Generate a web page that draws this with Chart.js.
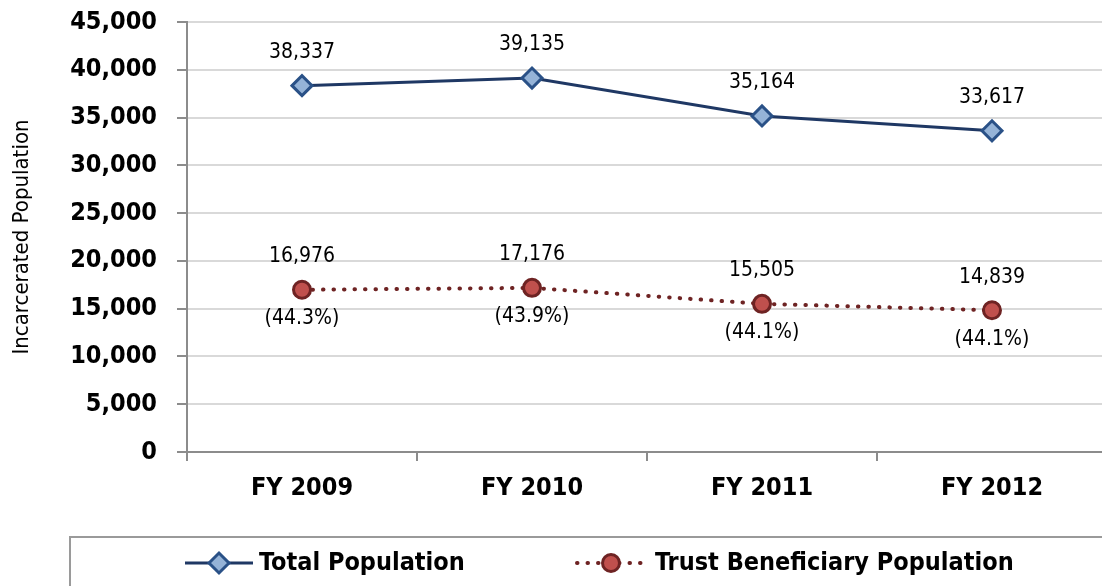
<!DOCTYPE html>
<html>
<head>
<meta charset="utf-8">
<script src="https://cdn.jsdelivr.net/npm/chart.js@4"></script>
<style>
  html, body { margin: 0; padding: 0; background: #fff; overflow: hidden; }
  #wrap { width: 1120px; height: 586px; }
</style>
</head>
<body>
<div id="wrap"><canvas id="popChart" width="1120" height="586"></canvas></div>
<script>
// ── Data ─────────────────────────────────────────────────────────────────────
const years = ['FY 2009', 'FY 2010', 'FY 2011', 'FY 2012'];
const totalPopulation = [38337, 39135, 35164, 33617];
const trustPopulation = [16976, 17176, 15505, 14839];
const trustShare = ['(44.3%)', '(43.9%)', '(44.1%)', '(44.1%)'];
const yTicks = [0, 5000, 10000, 15000, 20000, 25000, 30000, 35000, 40000, 45000];

const FONT = '"Liberation Sans Narrow", "Arial Narrow", "DejaVu Sans Condensed", sans-serif';
const fmt = n => n.toLocaleString('en-US');

// ── Value labels above / below the points ────────────────────────────────────
const pointLabels = {
    id: 'pointLabels',
    afterDatasetsDraw(chart) {
        const ctx = chart.ctx;
        ctx.save();
        ctx.font = '21px ' + FONT;
        ctx.fillStyle = '#000';
        ctx.textAlign = 'center';
        ctx.textBaseline = 'middle';
        chart.data.datasets.forEach((ds, i) => {
            chart.getDatasetMeta(i).data.forEach((pt, j) => {
                ctx.fillText(fmt(ds.data[j]), pt.x, pt.y - 33);
                if (ds.extra) ctx.fillText(ds.extra[j], pt.x, pt.y + 29);
            });
        });
        ctx.restore();
    }
};

// ── Boxed legend at the bottom ───────────────────────────────────────────────
const boxLegend = {
    id: 'boxLegend',
    afterDraw(chart) {
        const ctx = chart.ctx;
        ctx.save();
        ctx.strokeStyle = '#9a9a9a';
        ctx.lineWidth = 2;
        ctx.strokeRect(70, 537, 1100, 100);

        const y = 563;
        const items = [{ x: 185, textX: 259 }, { x: 577, textX: 655 }];
        chart.data.datasets.forEach((ds, i) => {
            const it = items[i];
            ctx.strokeStyle = ds.borderColor;
            ctx.lineWidth = ds.borderWidth;
            ctx.lineCap = ds.borderCapStyle || 'butt';
            ctx.setLineDash(ds.borderDash || []);
            ctx.beginPath();
            ctx.moveTo(it.x, y);
            ctx.lineTo(it.x + 68, y);
            ctx.stroke();
            ctx.setLineDash([]);
            ctx.fillStyle = ds.pointBackgroundColor;
            ctx.strokeStyle = ds.pointBorderColor;
            ctx.lineWidth = ds.pointBorderWidth;
            Chart.helpers.drawPoint(ctx, { pointStyle: ds.pointStyle, radius: ds.pointRadius, rotation: 0, borderWidth: ds.pointBorderWidth }, it.x + 34, y);
            ctx.fillStyle = '#000';
            ctx.font = 'bold 25px ' + FONT;
            ctx.textAlign = 'left';
            ctx.textBaseline = 'middle';
            ctx.fillText(ds.label, it.textX, y);
        });
        ctx.restore();
    }
};

new Chart(document.getElementById('popChart').getContext('2d'), {
    type: 'line',
    data: {
        labels: years,
        datasets: [
            {
                label: 'Total Population',
                data: totalPopulation,
                borderColor: '#1f3864',
                borderWidth: 3,
                pointStyle: 'rectRot',
                pointRadius: 10,
                pointBackgroundColor: '#95b3d7',
                pointBorderColor: '#2a5187',
                pointBorderWidth: 3,
                tension: 0
            },
            {
                label: 'Trust Beneficiary Population',
                data: trustPopulation,
                extra: trustShare,
                borderColor: '#6e2323',
                borderWidth: 4,
                borderDash: [0.5, 10],
                borderCapStyle: 'round',
                pointStyle: 'circle',
                pointRadius: 8.5,
                pointBackgroundColor: '#c0504d',
                pointBorderColor: '#6e2323',
                pointBorderWidth: 3,
                tension: 0
            }
        ]
    },
    options: {
        responsive: false,
        animation: false,
        layout: { padding: { top: 22, right: 9, left: 0, bottom: 0 } },
        plugins: { legend: { display: false }, tooltip: { enabled: false } },
        scales: {
            x: {
                offset: true,
                afterFit: s => { s.height = 134; },
                border: { color: '#8c8c8c', width: 2 },
                grid: { offset: true, drawOnChartArea: false, drawTicks: true, tickLength: 9, color: '#8c8c8c', lineWidth: 2 },
                ticks: { color: '#000', font: { family: FONT, size: 25, weight: 'bold' }, padding: 12 }
            },
            y: {
                min: 0,
                max: 45000,
                afterFit: s => { s.width = 187; s.paddingTop = 0; s.paddingBottom = 0; },
                afterBuildTicks: s => { s.ticks = yTicks.map(v => ({ value: v })); },
                border: { color: '#8c8c8c', width: 2 },
                grid: {
                    color: ctx => ctx.tick && ctx.tick.value === 0 ? '#8c8c8c' : '#d9d9d9',
                    lineWidth: 2,
                    tickLength: 10,
                    tickColor: '#8c8c8c'
                },
                ticks: { color: '#000', font: { family: FONT, size: 25, weight: 'bold' }, padding: 20, callback: v => fmt(v) },
                title: {
                    display: true,
                    text: 'Incarcerated Population',
                    color: '#000',
                    font: { family: FONT, size: 22 },
                    padding: { top: 9, bottom: 0 }
                }
            }
        }
    },
    plugins: [pointLabels, boxLegend]
});
</script>
</body>
</html>
